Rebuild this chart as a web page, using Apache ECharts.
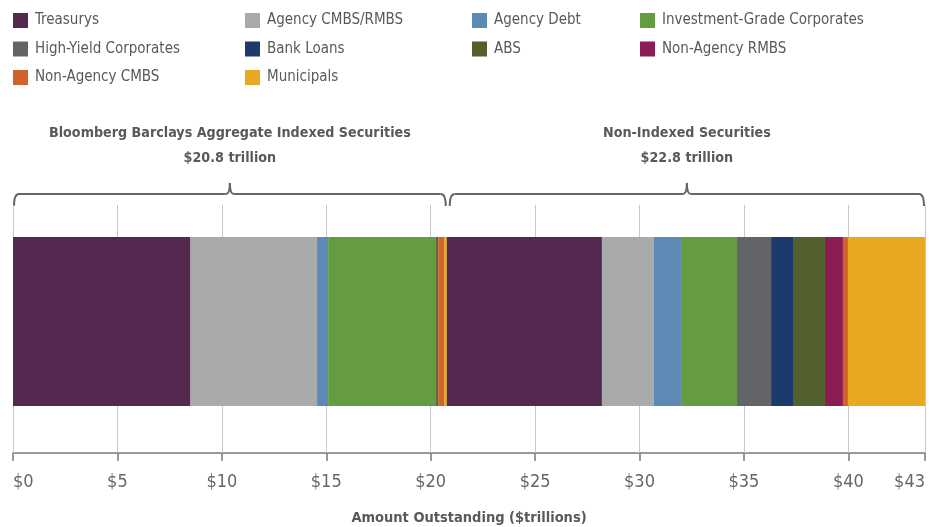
<!DOCTYPE html>
<html>
<head>
<meta charset="utf-8">
<title>Amount Outstanding</title>
<script src="https://cdn.jsdelivr.net/npm/echarts/dist/echarts.min.js"></script>
<style>
html, body { margin: 0; padding: 0; background: #fff; }
#main { width: 929px; height: 527px; }
</style>
</head>
<body>
<div id="main"></div>
<script>
// sectors, in stacking order
var categories = ['Treasurys', 'Agency CMBS/RMBS', 'Agency Debt', 'Investment-Grade Corporates',
    'High-Yield Corporates', 'Bank Loans', 'ABS', 'Non-Agency RMBS', 'Non-Agency CMBS', 'Municipals'];
var colors = ['#54284F', '#A9AAAB', '#5D8AB4', '#659B41',
    '#636468', '#1B3B6C', '#52602C', '#8B1D55', '#D3612A', '#E8A822'];

// $ trillions
var indexed = [8.50, 6.06, 0.53, 5.17, 0, 0, 0.11, 0, 0.27, 0.13];
var nonIndexed = [7.43, 2.49, 1.34, 2.64, 1.63, 1.05, 1.53, 0.86, 0.24, 3.69];

var groupTitles = ['Bloomberg Barclays Aggregate Indexed Securities', 'Non-Indexed Securities'];
var groupTotals = ['$20.8 trillion', '$22.8 trillion'];
var axisTitle = 'Amount Outstanding ($trillions)';
var tickStep = 5;

var FONT = "'DejaVu Sans Condensed', 'Liberation Sans Narrow', sans-serif";
var TXT = '#595959';

function sum(a) { return a.reduce(function (s, v) { return s + v; }, 0); }
var leftTotal = sum(indexed);
var total = leftTotal + sum(nonIndexed);

var chart = echarts.init(document.getElementById('main'));

// 4 legend columns, filled row by row
var legends = [13, 245, 472, 640].map(function (x, col) {
    return {
        orient: 'vertical', left: x, top: 13, padding: 0,
        itemWidth: 15, itemHeight: 15, itemGap: 13.5,
        icon: 'rect',
        selectedMode: false,
        textStyle: { fontFamily: FONT, fontSize: 15, color: TXT, padding: [0, 0, 0, 2] },
        data: categories.filter(function (c, i) { return i % 4 === col; })
    };
});

var series = [];
[indexed, nonIndexed].forEach(function (group) {
    group.forEach(function (v, i) {
        series.push({
            name: categories[i],
            type: 'bar',
            stack: 'total',
            barCategoryGap: '0%',
            itemStyle: { color: colors[i] },
            data: [v]
        });
    });
});

chart.setOption({
    animation: false,
    legend: legends,
    grid: { left: 13, right: 4, top: 237, bottom: 119 },
    xAxis: [{
        type: 'value', position: 'bottom', min: 0, max: total, interval: tickStep, offset: 47,
        axisLine: { show: true, lineStyle: { color: '#7a7a7a', width: 1.5 } },
        axisTick: { show: true, inside: true, length: 248, lineStyle: { color: '#c8c8c8' } },
        splitLine: { show: false },
        axisLabel: {
            margin: 20, fontFamily: FONT, fontSize: 18, color: '#666',
            showMinLabel: true, showMaxLabel: true,
            alignMinLabel: 'left', alignMaxLabel: 'right',
            formatter: function (v) { return '$' + Math.floor(v); }
        },
        name: axisTitle, nameLocation: 'middle', nameGap: 58,
        nameTextStyle: { fontFamily: FONT, fontSize: 14.5, fontWeight: 'bold', color: TXT }
    }, {
        type: 'value', position: 'bottom', min: 0, max: total, interval: tickStep, offset: 47,
        axisLine: { show: false },
        axisTick: { show: true, length: 8, lineStyle: { color: '#7a7a7a', width: 1.5 } },
        axisLabel: { show: false },
        splitLine: { show: false }
    }],
    yAxis: { type: 'category', data: ['All'], show: false },
    series: series
});

// brackets + group headings, placed from the group totals
var LINE = { fill: 'none', stroke: '#666', lineWidth: 2 };
function brace(x1, x2) {
    var c = (x1 + x2) / 2, y = 194, yEnd = 206, ySpike = 183, r = 5;
    return [
        { type: 'bezierCurve', shape: { x1: x1, y1: yEnd, cpx1: x1, cpy1: y, x2: x1 + r, y2: y }, style: LINE },
        { type: 'line', shape: { x1: x1 + r, y1: y, x2: c - 4, y2: y }, style: LINE },
        { type: 'bezierCurve', shape: { x1: c - 4, y1: y, cpx1: c, cpy1: y, x2: c, y2: ySpike }, style: LINE },
        { type: 'bezierCurve', shape: { x1: c, y1: ySpike, cpx1: c, cpy1: y, x2: c + 4, y2: y }, style: LINE },
        { type: 'line', shape: { x1: c + 4, y1: y, x2: x2 - r, y2: y }, style: LINE },
        { type: 'bezierCurve', shape: { x1: x2 - r, y1: y, cpx1: x2, cpy1: y, x2: x2, y2: yEnd }, style: LINE }
    ];
}
var px = function (v) { return chart.convertToPixel({ xAxisIndex: 0 }, v); };
var spans = [[px(0) + 1, px(leftTotal) - 1], [px(leftTotal) + 3, px(total) - 1]];
var graphic = [];
spans.forEach(function (s, i) {
    graphic = graphic.concat(brace(s[0], s[1]));
    graphic.push({
        type: 'text', x: (s[0] + s[1]) / 2, y: 121,
        style: {
            text: groupTitles[i] + '\n' + groupTotals[i],
            align: 'center', verticalAlign: 'top', lineHeight: 25,
            fontFamily: FONT, fontSize: 14.2, fontWeight: 'bold', fill: TXT
        }
    });
});
chart.setOption({ graphic: graphic });

window.onresize = chart.resize;
</script>
</body>
</html>
